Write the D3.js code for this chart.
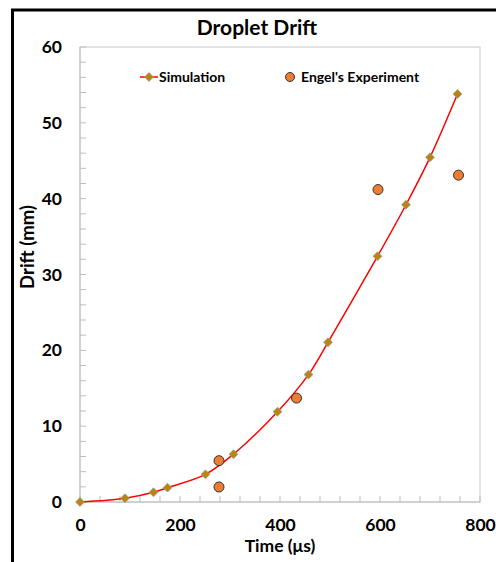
<!DOCTYPE html>
<html>
<head>
<meta charset="utf-8">
<script src="https://cdn.jsdelivr.net/npm/d3@7"></script>
<style>
  html, body { margin: 0; padding: 0; background: #fff; }
  svg { display: block; }
  text { font-family: Lato, "Open Sans", sans-serif; font-weight: bold; fill: #000; }
</style>
</head>
<body>
<svg id="chart" width="496" height="562"></svg>
<script>
const chartTitle = "Droplet Drift";
const xAxisTitle = "Time (μs)";
const yAxisTitle = "Drift (mm)";
const seriesNames = ["Simulation", "Engel's Experiment"];

const simTime  = [0, 90, 147, 175, 251, 307, 395, 457, 496, 595, 652, 700, 755];
const simDrift = [0, 0.5, 1.28, 1.89, 3.65, 6.3, 11.9, 16.8, 21.06, 32.4, 39.2, 45.45, 53.8];

const expTime  = [278, 278, 433, 596, 757];
const expDrift = [5.45, 1.98, 13.7, 41.2, 43.1];

const xTicks = [0, 200, 400, 600, 800];
const yTicks = [0, 10, 20, 30, 40, 50, 60];
const xMinorStep = 40;
const yMinorStep = 2;

const svg = d3.select("#chart");
const W = 496, H = 562;
const plot = { left: 80, right: 480, top: 47, bottom: 502 };
const tickFont = 17.5;

const x = d3.scaleLinear().domain([0, 800]).range([plot.left, plot.right]);
const y = d3.scaleLinear().domain([0, 60]).range([plot.bottom, plot.top]);

// outer chart border
svg.append("rect")
  .attr("x", 12.5).attr("y", 10).attr("width", W).attr("height", H)
  .attr("fill", "#fff").attr("stroke", "#000").attr("stroke-width", 3);

// plot area border
svg.append("rect")
  .attr("x", plot.left).attr("y", plot.top)
  .attr("width", plot.right - plot.left).attr("height", plot.bottom - plot.top)
  .attr("fill", "none").attr("stroke", "#c8c8c8").attr("stroke-width", 1);

// minor inward ticks
const xMinor = d3.range(0, 800 + 0.001, xMinorStep);
const yMinor = d3.range(0, 60 + 0.001, yMinorStep);
svg.append("g").selectAll("line").data(xMinor).join("line")
  .attr("x1", d => x(d)).attr("x2", d => x(d))
  .attr("y1", plot.bottom).attr("y2", plot.bottom - 6)
  .attr("stroke", "#bdbdbd").attr("stroke-width", 1);
svg.append("g").selectAll("line").data(yMinor).join("line")
  .attr("x1", plot.left).attr("x2", plot.left + 6)
  .attr("y1", d => y(d)).attr("y2", d => y(d))
  .attr("stroke", "#bdbdbd").attr("stroke-width", 1);

// axis lines
svg.append("line").attr("x1", plot.left).attr("x2", plot.right)
  .attr("y1", plot.bottom).attr("y2", plot.bottom).attr("stroke", "#bdbdbd");
svg.append("line").attr("x1", plot.left).attr("x2", plot.left)
  .attr("y1", plot.top).attr("y2", plot.bottom).attr("stroke", "#bdbdbd");

// tick labels via d3 axes
const xAxis = d3.axisBottom(x).tickValues(xTicks).tickSize(0).tickPadding(17).tickFormat(d3.format("d"));
const gx = svg.append("g").attr("transform", `translate(0,${plot.bottom})`).call(xAxis);
gx.select(".domain").remove();
gx.selectAll("text").style("font-size", tickFont + "px").style("font-family", "Lato, sans-serif").style("font-weight", "bold").attr("fill", "#000");

const yAxis = d3.axisLeft(y).tickValues(yTicks).tickSize(0).tickPadding(18).tickFormat(d3.format("d"));
const gy = svg.append("g").attr("transform", `translate(${plot.left},0)`).call(yAxis);
gy.select(".domain").remove();
gy.selectAll("text").style("font-size", tickFont + "px").style("font-family", "Lato, sans-serif").style("font-weight", "bold").attr("fill", "#000");

// titles
svg.append("text").attr("x", 257).attr("y", 35).attr("text-anchor", "middle")
  .style("font-size", "21px").text(chartTitle);
svg.append("text").attr("x", 280).attr("y", 552).attr("text-anchor", "middle")
  .style("font-size", "17.5px").text(xAxisTitle);
svg.append("text").attr("transform", "translate(34,247) rotate(-90)").attr("text-anchor", "middle")
  .style("font-size", "18.5px").text(yAxisTitle);

// simulation line
const simData = simTime.map((t, i) => [t, simDrift[i]]);
const line = d3.line().x(d => x(d[0])).y(d => y(d[1])).curve(d3.curveCatmullRom.alpha(0.5));
svg.append("path").datum(simData).attr("d", line)
  .attr("fill", "none").attr("stroke", "#ff0000").attr("stroke-width", 1.5);

const diamond = d3.symbol().type(d3.symbolDiamond2).size(50);
const simColor = "#b8860b";
svg.append("g").selectAll("path").data(simData).join("path")
  .attr("transform", d => `translate(${x(d[0])},${y(d[1])})`)
  .attr("d", diamond)
  .attr("fill", simColor).attr("stroke", "#9a9a9a").attr("stroke-width", 0.8);

// experiment points
const expData = expTime.map((t, i) => [t, expDrift[i]]);
const expColor = "#ed7d31";
svg.append("g").selectAll("circle").data(expData).join("circle")
  .attr("cx", d => x(d[0])).attr("cy", d => y(d[1])).attr("r", 5)
  .attr("fill", expColor).attr("stroke", "#333").attr("stroke-width", 1);

// legend
const lg = svg.append("g");
lg.append("line").attr("x1", 140).attr("x2", 158).attr("y1", 77).attr("y2", 77)
  .attr("stroke", "#ff0000").attr("stroke-width", 1.5);
lg.append("path").attr("transform", "translate(149,77)").attr("d", diamond)
  .attr("fill", simColor).attr("stroke", "#9a9a9a").attr("stroke-width", 0.8);
lg.append("text").attr("x", 159).attr("y", 82).style("font-size", "14px").text(seriesNames[0]);
lg.append("circle").attr("cx", 290).attr("cy", 77).attr("r", 4.5)
  .attr("fill", expColor).attr("stroke", "#333").attr("stroke-width", 1);
lg.append("text").attr("x", 301).attr("y", 82).style("font-size", "14px").text(seriesNames[1]);
</script>
</body>
</html>
